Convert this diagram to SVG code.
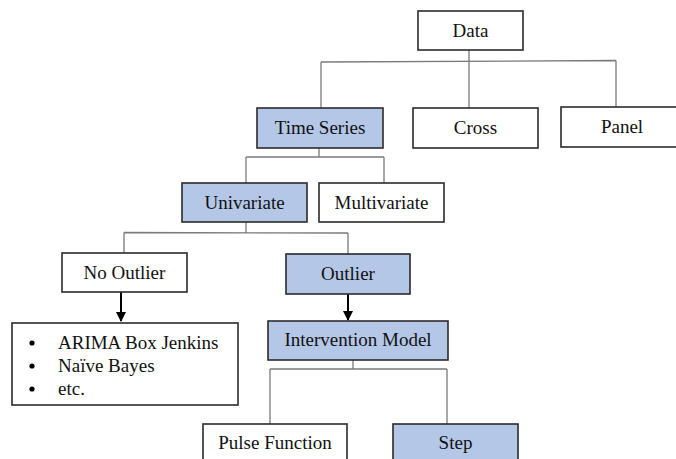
<svg xmlns="http://www.w3.org/2000/svg" width="676" height="459" viewBox="0 0 676 459">
  <style>
    .box { fill: #ffffff; stroke: #2b2b2b; stroke-width: 1.6; }
    .blue { fill: #b4c7e7; }
    .lbl { font-family: 'Liberation Serif', 'DejaVu Serif', serif; font-size: 19px; fill: #111; text-anchor: middle; }
    .item { font-family: 'Liberation Serif', 'DejaVu Serif', serif; font-size: 19px; fill: #111; }
    .link { fill: none; stroke: #7a7a7a; stroke-width: 1.3; }
    .arrow { fill: none; stroke: #000; stroke-width: 2; marker-end: url(#head); }
  </style>
  <defs>
    <marker id="head" viewBox="0 0 10 10" refX="9" refY="5" markerWidth="5" markerHeight="5" markerUnits="strokeWidth" orient="auto">
      <path d="M0,0 L10,5 L0,10 Z" fill="#000"/>
    </marker>
  </defs>
  <rect width="676" height="459" fill="#ffffff"/>

  <g id="connectors">
    <!-- Data -> Time Series / Cross / Panel -->
    <path class="link" d="M469,50 V61.5 M321,62 L616,60.5 M321,62 V108 M469,61.5 V108 M616,60.5 V107"/>
    <!-- Time Series -> Univariate / Multivariate -->
    <path class="link" d="M319,148 V157 M246,157 H384 M246,157 V183 M384,157 V183"/>
    <!-- Univariate -> No Outlier / Outlier -->
    <path class="link" d="M246,222 V232.5 M124,232.5 L348,233 M124,232.5 V253 M348,233 V254"/>
    <!-- Intervention Model -> Pulse Function / Step -->
    <path class="link" d="M353,360 V369 M270,369 H447 M270,369 V424 M447,369 V424"/>
    <!-- arrows -->
    <path class="arrow" d="M121,292 V321"/>
    <path class="arrow" d="M348,294 V320"/>
  </g>

  <g id="data">
    <rect class="box" x="418" y="11" width="105" height="39"/>
    <text class="lbl" x="470.5" y="37" font-family="Liberation Serif, serif">Data</text>
  </g>
  <g id="time-series">
    <rect class="box blue" x="257" y="108" width="126" height="40"/>
    <text class="lbl" x="320" y="134">Time Series</text>
  </g>
  <g id="cross">
    <rect class="box" x="413" y="108" width="125" height="40"/>
    <text class="lbl" x="475.5" y="134">Cross</text>
  </g>
  <g id="panel">
    <rect class="box" x="561" y="107" width="130" height="40"/>
    <text class="lbl" x="622" y="133">Panel</text>
  </g>
  <g id="univariate">
    <rect class="box blue" x="182" y="183" width="125" height="39"/>
    <text class="lbl" x="244.5" y="209">Univariate</text>
  </g>
  <g id="multivariate">
    <rect class="box" x="319" y="183" width="125" height="39"/>
    <text class="lbl" x="381.5" y="209">Multivariate</text>
  </g>
  <g id="no-outlier">
    <rect class="box" x="62" y="253" width="125" height="39"/>
    <text class="lbl" x="124.5" y="279">No Outlier</text>
  </g>
  <g id="outlier">
    <rect class="box blue" x="286" y="254" width="124" height="40"/>
    <text class="lbl" x="348" y="280">Outlier</text>
  </g>
  <g id="methods">
    <rect class="box" x="12" y="323" width="226" height="82"/>
    <circle cx="32" cy="343" r="2.6" fill="#000"/>
    <circle cx="32" cy="366" r="2.6" fill="#000"/>
    <circle cx="32" cy="389" r="2.6" fill="#000"/>
    <text class="item" x="58" y="349">ARIMA Box Jenkins</text>
    <text class="item" x="58" y="372">Naïve Bayes</text>
    <text class="item" x="58" y="395">etc.</text>
  </g>
  <g id="intervention-model">
    <rect class="box blue" x="268" y="321" width="180" height="39"/>
    <text class="lbl" x="358" y="346">Intervention Model</text>
  </g>
  <g id="pulse-function">
    <rect class="box" x="203" y="424" width="144" height="50"/>
    <text class="lbl" x="275" y="449">Pulse Function</text>
  </g>
  <g id="step">
    <rect class="box blue" x="393" y="424" width="125" height="50"/>
    <text class="lbl" x="455.5" y="449">Step</text>
  </g>
</svg>
